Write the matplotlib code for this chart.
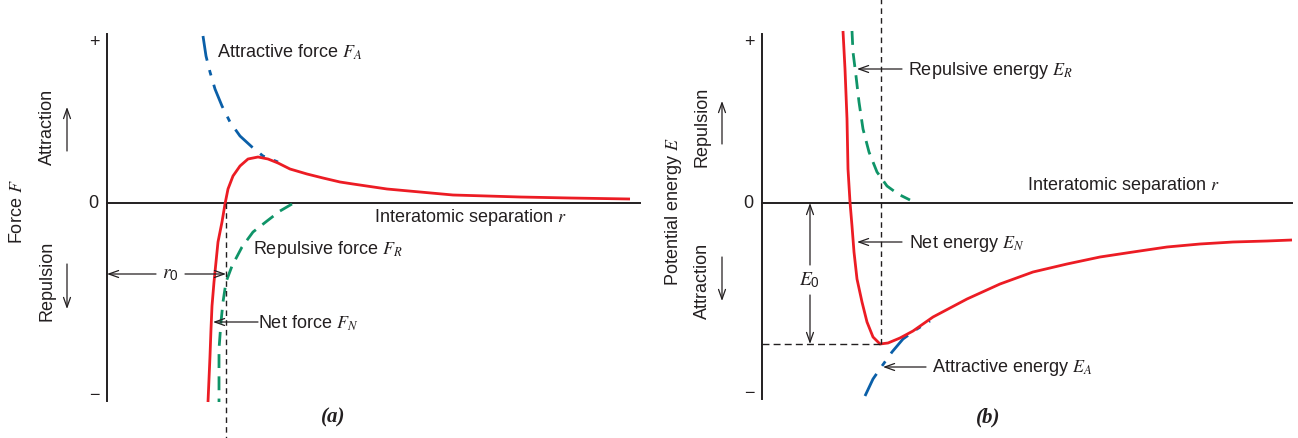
import matplotlib
matplotlib.use("Agg")
import matplotlib.pyplot as plt

plt.rcParams['font.family'] = ['Liberation Sans', 'DejaVu Sans']
plt.rcParams['mathtext.fontset'] = 'custom'
plt.rcParams['mathtext.it'] = 'STIXGeneral:italic'
plt.rcParams['mathtext.rm'] = 'Liberation Sans'
plt.rcParams['lines.solid_joinstyle'] = 'round'
plt.rcParams['lines.dash_joinstyle'] = 'round'

# --- data (arbitrary units) ---
# (a) force vs separation
r_fa = [0.96, 0.99, 1.03, 1.08, 1.15, 1.23, 1.33, 1.45, 1.56, 1.71]
f_attr = [1.67, 1.47, 1.31, 1.14, 0.97, 0.81, 0.67, 0.56, 0.47, 0.41]

r_fn = [1.01, 1.02, 1.03, 1.04, 1.05, 1.07, 1.09, 1.11, 1.15, 1.18, 1.21, 1.26, 1.33,
        1.41, 1.51, 1.61, 1.71, 1.83, 2.00, 2.16, 2.33, 2.46, 2.80, 3.13, 3.46,
        3.80, 4.13, 4.63, 5.23]
f_net = [-1.99, -1.76, -1.53, -1.26, -1.03, -0.79, -0.59, -0.39, -0.19, -0.01, 0.14, 0.27, 0.37,
         0.44, 0.46, 0.44, 0.40, 0.34, 0.29, 0.25, 0.21, 0.19, 0.14, 0.11, 0.08,
         0.07, 0.06, 0.05, 0.04]

r_fr = [1.85, 1.73, 1.60, 1.46, 1.35, 1.25, 1.19, 1.16, 1.14, 1.12, 1.12, 1.12]
f_rep = [-0.01, -0.08, -0.18, -0.29, -0.44, -0.63, -0.79, -0.99, -1.19, -1.46, -1.73, -1.99]

r0 = 1.19

# (b) potential energy vs separation
r_en = [0.81, 0.83, 0.85, 0.86, 0.88, 0.90, 0.92, 0.95, 1.00, 1.05, 1.11, 1.18, 1.26,
        1.38, 1.51, 1.71, 2.05, 2.38, 2.71, 3.05, 3.38, 3.71, 4.05, 4.38, 4.71, 5.05, 5.30]
e_net = [1.72, 1.34, 0.84, 0.34, 0.01, -0.23, -0.49, -0.76, -0.99, -1.19, -1.34, -1.41, -1.40,
         -1.35, -1.28, -1.14, -0.96, -0.81, -0.69, -0.61, -0.54, -0.49, -0.44, -0.41, -0.39,
         -0.38, -0.37]

r_er = [0.90, 0.91, 0.94, 0.97, 1.01, 1.07, 1.15, 1.25, 1.36, 1.48]
e_rep = [1.72, 1.51, 1.27, 1.01, 0.74, 0.51, 0.31, 0.17, 0.09, 0.03]

r_ea = [1.03, 1.11, 1.20, 1.30, 1.41, 1.55, 1.68]
e_attr = [-1.93, -1.76, -1.63, -1.49, -1.36, -1.26, -1.18]

r_min = 1.19
e_min = -1.41

RED = '#ec1c24'
BLUE = '#0a5fa8'
GREEN = '#0f9468'
INK = '#231f20'
FS = 13

fig = plt.figure(figsize=(12.98, 4.39), dpi=100)
axa = fig.add_axes([0, 0, 0.5, 1])
axb = fig.add_axes([0.5, 0, 0.5, 1])
axa.set_xlim(-1.07, 5.42)
axb.set_xlim(-1.13, 5.36)
for ax in (axa, axb):
    ax.set_ylim(-2.35, 2.04)
    ax.axis('off')

arrow = dict(arrowstyle='->,head_length=0.7,head_width=0.25', lw=0.9, color=INK,
             shrinkA=0, shrinkB=0)


def frame(ax, top, bottom, right):
    ax.plot([0, 0], [top, bottom], color=INK, lw=1.4)
    ax.plot([0, right], [0, 0], color=INK, lw=1.4)
    ax.text(-0.13, 1.62, '+', ha='center', va='center', fontsize=FS, color=INK)
    ax.text(-0.14, 0, '0', ha='center', va='center', fontsize=FS, color=INK)
    ax.text(-0.13, bottom + 0.06, '\u2212', ha='center', va='center', fontsize=FS, color=INK)


def side_labels(ax, title, up, down, up_arrow, down_arrow):
    ax.text(-0.89, -0.08, title, rotation=90, ha='center', va='center', fontsize=FS, color=INK)
    ax.text(-0.60, 0.77, up, rotation=90, ha='center', va='center', fontsize=FS, color=INK)
    ax.text(-0.60, -0.77, down, rotation=90, ha='center', va='center', fontsize=FS, color=INK)
    ax.annotate('', xy=(-0.40, up_arrow[1]), xytext=(-0.40, up_arrow[0]), arrowprops=arrow)
    ax.annotate('', xy=(-0.40, down_arrow[1]), xytext=(-0.40, down_arrow[0]), arrowprops=arrow)


# ---------- (a) ----------
frame(axa, 1.69, -1.98, 5.33)
side_labels(axa, 'Force $F$', 'Attraction', 'Repulsion', (0.52, 0.96), (-0.61, -1.06))

axa.plot(r_fa, f_attr, color=BLUE, lw=2.0, dashes=(9, 3.5, 2, 3.5))
axa.plot(r_fr, f_rep, color=GREEN, lw=2.0, dashes=(5, 3))
axa.plot(r_fn, f_net, color=RED, lw=2.0, solid_capstyle='butt')
axa.plot([r0, r0], [0, -2.35], color=INK, lw=1.0, dashes=(4, 3))

axa.text(1.10, 1.52, 'Attractive force $F_A$', fontsize=FS, va='center', color=INK)
axa.text(2.67, -0.13, 'Interatomic separation $r$', fontsize=FS, va='center', color=INK)
axa.text(1.46, -0.46, 'Repulsive force $F_R$', fontsize=FS, va='center', color=INK)
axa.text(1.51, -1.19, 'Net force $F_N$', fontsize=FS, va='center', color=INK)
axa.annotate('', xy=(1.06, -1.19), xytext=(1.51, -1.19), arrowprops=arrow)

axa.text(0.63, -0.71, '$r_0$', fontsize=FS + 1, ha='center', va='center', color=INK)
axa.annotate('', xy=(0.0, -0.71), xytext=(0.49, -0.71), arrowprops=arrow)
axa.annotate('', xy=(r0, -0.71), xytext=(0.78, -0.71), arrowprops=arrow)

axa.text(2.26, -2.13, '(a)', fontsize=15, ha='center', va='center', color=INK,
         family='Liberation Serif', weight='bold', style='italic')

# ---------- (b) ----------
frame(axb, 1.69, -1.96, 5.30)
side_labels(axb, 'Potential energy $E$', 'Repulsion', 'Attraction', (0.59, 1.02), (-0.54, -0.98))

axb.plot(r_ea, e_attr, color=BLUE, lw=2.0, dashes=(9, 3.5, 2, 3.5))
axb.plot(r_er, e_rep, color=GREEN, lw=2.0, dashes=(5, 3))
axb.plot(r_en, e_net, color=RED, lw=2.0, solid_capstyle='butt')
axb.plot([r_min, r_min], [e_min, 2.04], color=INK, lw=1.0, dashes=(4, 3))
axb.plot([0, r_min], [e_min, e_min], color=INK, lw=1.0, dashes=(5, 3))

axb.text(2.65, 0.19, 'Interatomic separation $r$', fontsize=FS, va='center', color=INK)
axb.text(1.46, 1.34, 'Repulsive energy $E_R$', fontsize=FS, va='center', color=INK)
axb.annotate('', xy=(0.95, 1.34), xytext=(1.40, 1.34), arrowprops=arrow)
axb.text(1.47, -0.39, 'Net energy $E_N$', fontsize=FS, va='center', color=INK)
axb.annotate('', xy=(0.95, -0.39), xytext=(1.40, -0.39), arrowprops=arrow)
axb.text(1.70, -1.64, 'Attractive energy $E_A$', fontsize=FS, va='center', color=INK)
axb.annotate('', xy=(1.21, -1.64), xytext=(1.64, -1.64), arrowprops=arrow)

axb.text(0.47, -0.76, '$E_0$', fontsize=FS + 1, ha='center', va='center', color=INK)
axb.annotate('', xy=(0.48, 0.0), xytext=(0.48, -0.62), arrowprops=arrow)
axb.annotate('', xy=(0.48, e_min), xytext=(0.48, -0.92), arrowprops=arrow)

axb.text(2.26, -2.13, '(b)', fontsize=15, ha='center', va='center', color=INK,
         family='Liberation Serif', weight='bold', style='italic')

fig.savefig('out.png', dpi=100)
